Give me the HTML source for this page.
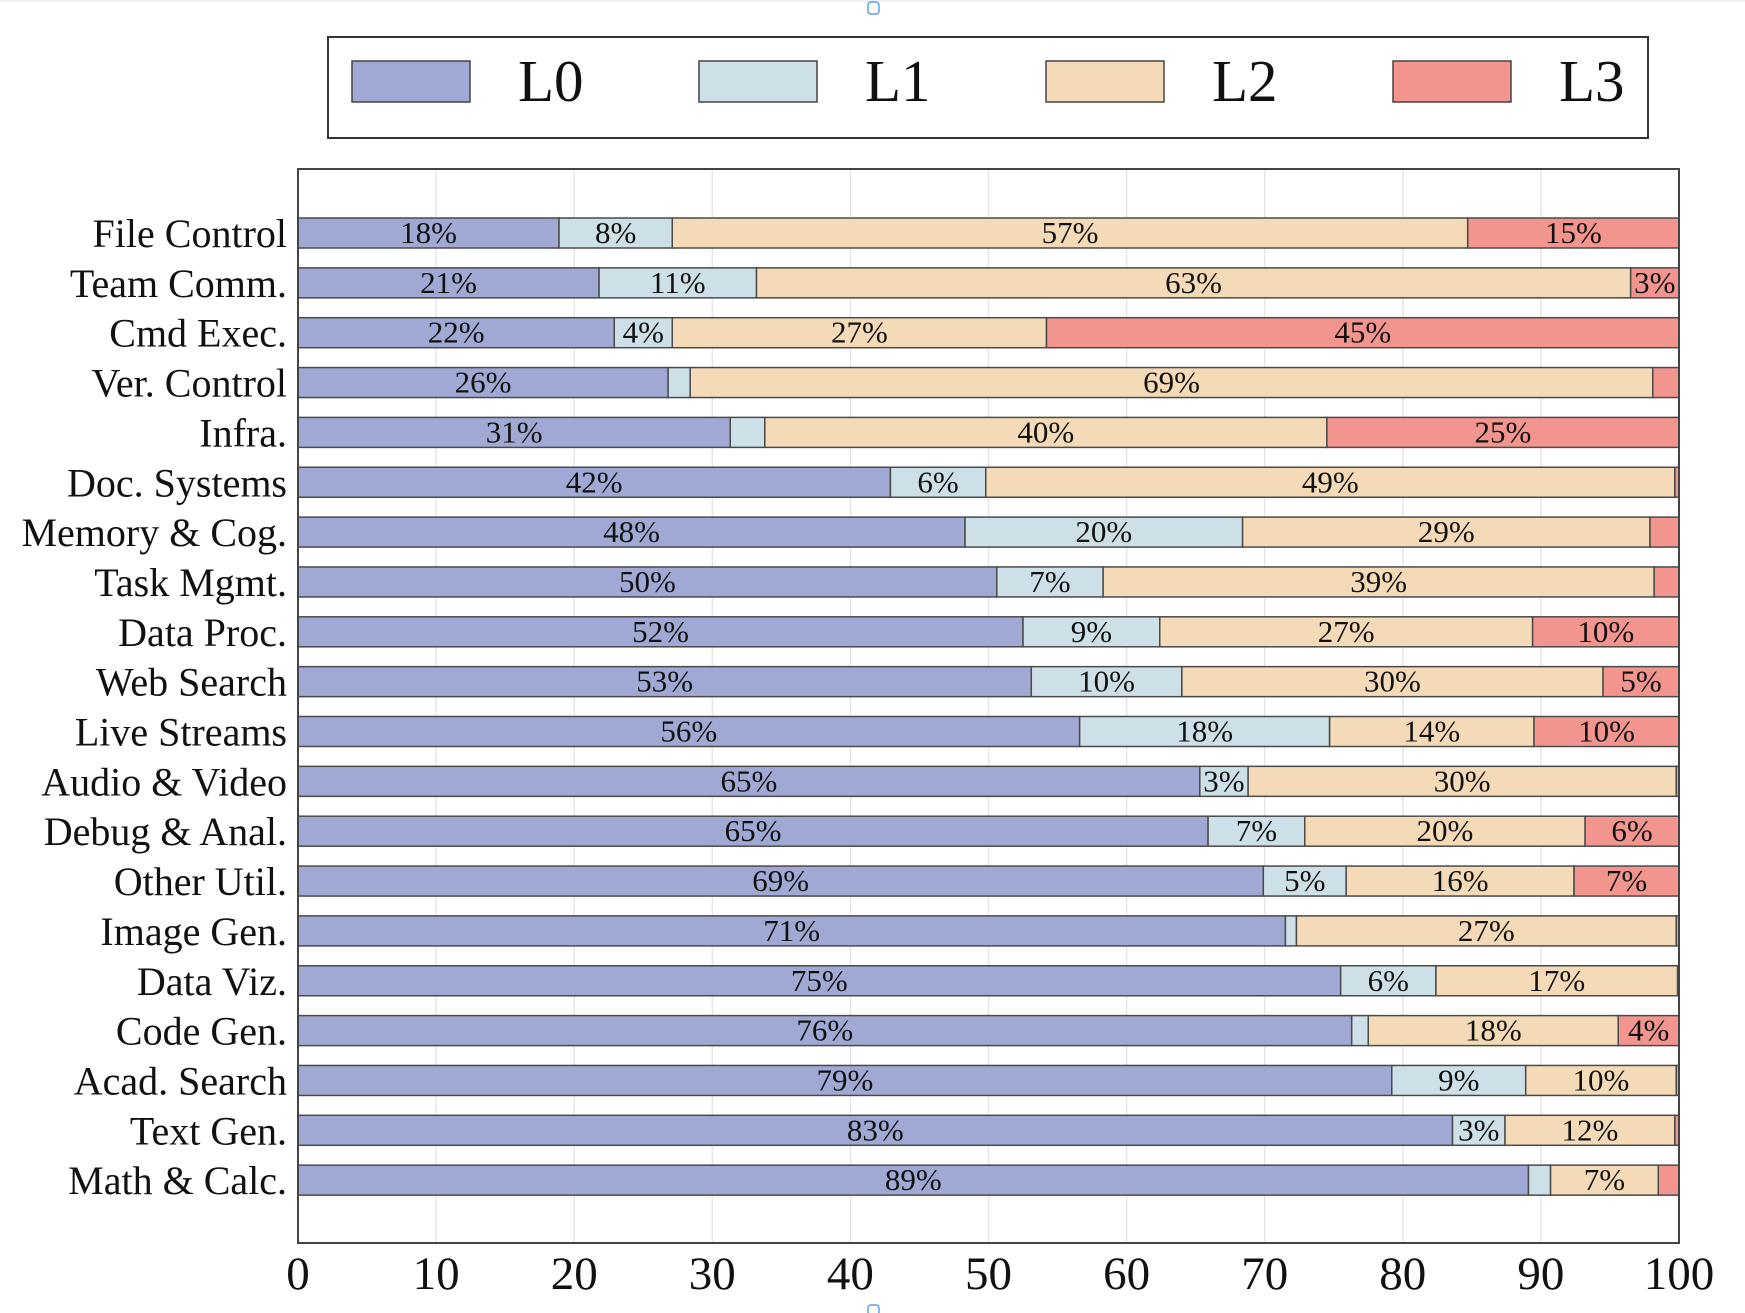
<!DOCTYPE html>
<html><head><meta charset="utf-8">
<style>
html,body{margin:0;padding:0;background:#fff;}
svg{display:block;font-family:"Liberation Serif","Times New Roman",serif;}
</style></head>
<body>
<svg id="chart" width="1745" height="1313" viewBox="0 0 1745 1313" xmlns="http://www.w3.org/2000/svg">
  <rect x="0" y="0" width="1745" height="2" fill="#eef2f6"/>
  <rect x="868" y="2" width="11" height="12" rx="3" fill="none" stroke="#5aa0e0" stroke-width="1.5"/>
  <rect x="868" y="1305" width="11" height="10" rx="3" fill="none" stroke="#5aa0e0" stroke-width="1.5"/>
  <g id="legend">
    <rect x="328" y="37" width="1320" height="101" fill="#fff" stroke="#333" stroke-width="2"/>
  </g>
  <g id="grid"></g>
  <g id="bars"></g>
  <rect x="298" y="169" width="1381" height="1074" fill="none" stroke="#444" stroke-width="2"/>
  <g id="ylabels"></g>
  <g id="xticks"></g>
</svg>
<script>
const categories = ["File Control","Team Comm.","Cmd Exec.","Ver. Control","Infra.","Doc. Systems","Memory & Cog.","Task Mgmt.","Data Proc.","Web Search","Live Streams","Audio & Video","Debug & Anal.","Other Util.","Image Gen.","Data Viz.","Code Gen.","Acad. Search","Text Gen.","Math & Calc."];
const l0 = [18.9,21.8,22.9,26.8,31.3,42.9,48.3,50.6,52.5,53.1,56.6,65.3,65.9,69.9,71.5,75.5,76.3,79.2,83.6,89.1];
const l1 = [8.2,11.4,4.2,1.6,2.5,6.9,20.1,7.7,9.9,10.9,18.1,3.5,7.0,6.0,0.8,6.9,1.2,9.7,3.8,1.6];
const l2 = [57.6,63.3,27.1,69.7,40.7,49.9,29.5,39.9,27.0,30.5,14.8,31.0,20.3,16.5,27.5,17.5,18.1,10.9,12.3,7.8];
const l3 = [15.3,3.5,45.8,1.9,25.5,0.3,2.1,1.8,10.6,5.5,10.5,0.2,6.8,7.6,0.2,0.1,4.4,0.2,0.3,1.5];
const l0Labels = ["18%","21%","22%","26%","31%","42%","48%","50%","52%","53%","56%","65%","65%","69%","71%","75%","76%","79%","83%","89%"];
const l1Labels = ["8%","11%","4%","","","6%","20%","7%","9%","10%","18%","3%","7%","5%","","6%","","9%","3%",""];
const l2Labels = ["57%","63%","27%","69%","40%","49%","29%","39%","27%","30%","14%","30%","20%","16%","27%","17%","18%","10%","12%","7%"];
const l3Labels = ["15%","3%","45%","","25%","","","","10%","5%","10%","","6%","7%","","","4%","","",""];
const seriesNames = ["L0","L1","L2","L3"];
const xTicks = [0,10,20,30,40,50,60,70,80,90,100];

const colors = ["#9fa9d4","#cde0e7","#f4dab6","#f3958f"];
const NS = "http://www.w3.org/2000/svg";
const X0 = 298, X1 = 1679, PT = 169, PB = 1243;
const xs = v => X0 + (X1 - X0) * v / 100;
const barTop = i => 218 + i * 49.85;
const BH = 30;
function mk(tag, attrs, parent){const e=document.createElementNS(NS,tag);for(const k in attrs)e.setAttribute(k,attrs[k]);parent.appendChild(e);return e;}

const grid = document.getElementById('grid');
xTicks.forEach(t=>{
  const ln = mk('line',{x1:xs(t),x2:xs(t),y1:PT,y2:PB,stroke:'#e6e6e6','stroke-width':1.5},grid);
  
  
});

const series = [l0,l1,l2,l3];
const labels = [l0Labels,l1Labels,l2Labels,l3Labels];
const bars = document.getElementById('bars');
categories.forEach((c,i)=>{
  let acc = 0;
  const g = mk('g',{},bars);
  
  
  series.forEach((s,k)=>{
    const v = s[i];
    const xa = xs(acc), xb = xs(acc+v);
    const r = mk('rect',{x:xa,y:barTop(i),width:Math.max(0,xb-xa),height:BH,fill:colors[k],stroke:'#4a4a4a','stroke-width':1.5},g);
    
    
    const lab = labels[k][i];
    if(lab){
      const t = mk('text',{x:(xa+xb)/2,y:barTop(i)+BH/2+10,'text-anchor':'middle','font-size':31,fill:'#111'},g);
      t.textContent = lab;
      
      
    }
    acc += v;
  });
});

const yl = document.getElementById('ylabels');
categories.forEach((c,i)=>{
  const t = mk('text',{x:287,y:barTop(i)+BH/2+14,'text-anchor':'end','font-size':40,fill:'#111'},yl);
  t.textContent = c;
  
  
});

const xt = document.getElementById('xticks');
xTicks.forEach(v=>{
  const t = mk('text',{x:xs(v),y:1289,'text-anchor':'middle','font-size':47,fill:'#111'},xt);
  t.textContent = v;
  
  
});

const lg = document.getElementById('legend');
seriesNames.forEach((n,k)=>{
  const px = 352 + k*347;
  const r = mk('rect',{x:px,y:61,width:118,height:41,fill:colors[k],stroke:'#444','stroke-width':1.5},lg);
  
  
  const t = mk('text',{x:px+166,y:101,'font-size':59,fill:'#111'},lg);
  t.textContent = n;
  
  
});
</script>
</body></html>
